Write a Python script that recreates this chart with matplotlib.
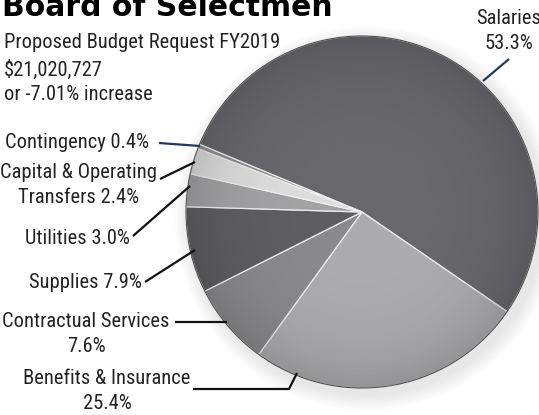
import numpy as np
import matplotlib.pyplot as plt
from matplotlib import font_manager
from matplotlib.patches import Circle

W, H = 539, 415

categories = ['Salaries', 'Benefits & Insurance', 'Contractual Services', 'Supplies',
              'Utilities', 'Capital & Operating Transfers', 'Contingency']
shares = [53.3, 25.4, 7.6, 7.9, 3.0, 2.4, 0.4]
slice_colors = ['#68686c', '#acacae', '#8a8a8c', '#5e5e60', '#a2a2a4', '#dcdcdc', '#8e8e90']

label_texts = ['Salaries\n53.3%', 'Benefits & Insurance\n25.4%', 'Contractual Services\n7.6%',
               'Supplies 7.9%', 'Utilities 3.0%', 'Capital & Operating\nTransfers 2.4%',
               'Contingency 0.4%']

# original uses a narrow sans; pick one if installed, otherwise shrink regular Arial-like font
installed = {f.name for f in font_manager.fontManager.ttflist}
if 'Liberation Sans Narrow' in installed:
    body_font, body_size = ['Liberation Sans Narrow'], 14.5
elif 'Roboto Condensed' in installed:
    body_font, body_size = ['Roboto Condensed'], 14.8
else:
    body_font, body_size = ['Liberation Sans', 'DejaVu Sans'], 12.6

fig = plt.figure(figsize=(W / 100, H / 100), dpi=100)
ax = fig.add_axes([0, 0, 1, 1])

cx, cy, r = 362, H - 212, 176

# soft drop shadow behind the pie
for i in range(8):
    ax.add_patch(Circle((cx + 5, cy - 6), r + 2 + i * 2, color='#888888',
                        alpha=0.025, lw=0, zorder=0))

ax.pie(shares, colors=slice_colors, startangle=157.4, counterclock=False,
       center=(cx, cy), radius=r,
       wedgeprops=dict(edgecolor='#eeeeee', linewidth=0.9))

# slight darkening towards the rim for the rounded look
yy, xx = np.mgrid[-1:1:300j, -1:1:300j]
d = np.clip(np.hypot(xx, yy), 0, 1)
shade = np.zeros((300, 300, 4))
shade[..., 3] = 0.14 * d ** 4
rim = Circle((cx, cy), r, transform=ax.transData)
im = ax.imshow(shade, extent=(cx - r, cx + r, cy - r, cy + r), zorder=4, origin='lower')
im.set_clip_path(rim)
ax.add_patch(Circle((cx, cy), r, fill=False, edgecolor='#505050', lw=0.8, zorder=5))

ax.set_xlim(0, W)
ax.set_ylim(0, H)
ax.set_aspect('auto')
ax.axis('off')

# title (cropped at top edge in original)
ax.text(2, H - 16, 'Board of Selectmen', fontsize=21.5, fontweight='heavy',
        family='DejaVu Sans', va='baseline', ha='left', color='black')

ax.text(4, H - 43, 'Proposed Budget Request FY2019', fontsize=body_size, family=body_font,
        va='center', ha='left', color='#222222')
ax.text(4, H - 70, '$21,020,727', fontsize=body_size, family=body_font,
        va='center', ha='left', color='#222222')
ax.text(4, H - 95, 'or -7.01% increase', fontsize=body_size, family=body_font,
        va='center', ha='left', color='#222222')

# label positions (x centre, y centre) and leader lines
label_pos = [(509, 31), (107, 391), (86, 334), (85, 283), (77, 238), (79, 185), (77, 143)]
leaders = [[(509, 59), (483, 81)],
           [(193, 389), (289, 389), (297, 373)],
           [(175, 322), (227, 322)],
           [(145, 282), (195, 250)],
           [(133, 236), (190, 186)],
           [(160, 179), (195, 162)],
           [(159, 143), (200, 146)]]
leader_colors = ['#1f3b5c', '#111111', '#111111', '#111111', '#111111', '#111111', '#1f3b5c']

for txt, (x, y), pts, lc in zip(label_texts, label_pos, leaders, leader_colors):
    ax.text(x, H - y, txt, fontsize=body_size, family=body_font, ha='center', va='center',
            color='#222222', linespacing=1.45)
    ax.plot([p[0] for p in pts], [H - p[1] for p in pts], color=lc, lw=1.6,
            solid_capstyle='butt', zorder=6)

plt.savefig('out.png', dpi=100)
plt.close()
